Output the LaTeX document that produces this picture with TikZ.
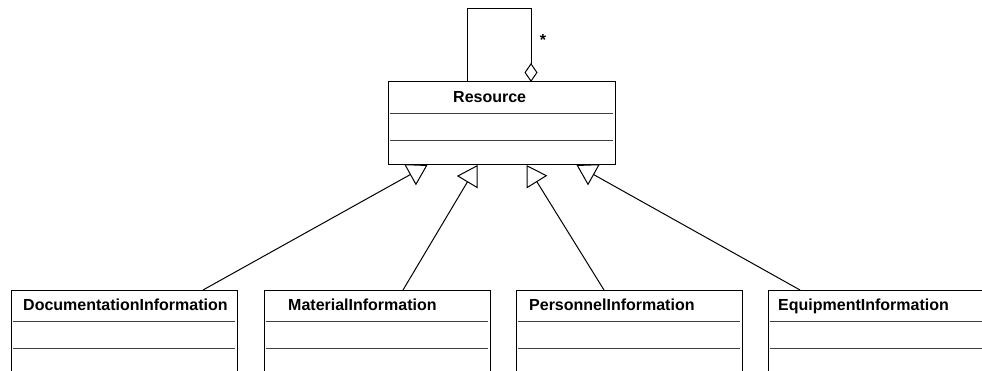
\documentclass[tikz,border=0pt]{standalone}
\usepackage{fontspec}
\setmainfont{Liberation Sans}
\usetikzlibrary{arrows.meta}

\begin{document}
\begin{tikzpicture}[
  x=1pt, y=-1pt,
  cls/.style ={draw,line width=1pt,minimum width=227pt,minimum height=83pt,
               inner sep=0pt,outer sep=0pt},
  sub/.style ={draw,line width=1pt,minimum width=226pt,minimum height=130pt,
               inner sep=0pt,outer sep=0pt,anchor=north west},
  ttl/.style ={font=\fontsize{16}{19}\bfseries\selectfont,inner sep=0pt,anchor=base west},
  cmp/.style ={line width=0.9pt,black!75},
  gen/.style ={-{Triangle[open,length=20pt,width=24pt]},line width=1pt},
  agg/.style ={-{Diamond[open,length=19pt,width=13pt]},line width=1pt}
]
\useasboundingbox (0,0) rectangle (982,371);
\clip (0,0) rectangle (982,371);

%% Parent class
\node[cls] (res) at (501.5,123.5) {};
\node[ttl] (resT) at (453,103) {Resource};

%% Sub classes (row y=290, cut off by the page bottom)
\node[sub] (doc) at (11,290)  {};
\node[sub] (mat) at (264,290) {};
\node[sub] (per) at (516,290) {};
\node[sub] (equ) at (768,290) {};

\node[ttl] (docT) at (23,310.5)  {DocumentationInformation};
\node[ttl] (matT) at (288,310.5) {MaterialInformation};
\node[ttl] (perT) at (529,310.5) {PersonnelInformation};
\node[ttl] (equT) at (778,310.5) {EquipmentInformation};

%% Compartments (attributes / operations)
\foreach \c in {res,doc,mat,per,equ}{
  \draw[cmp] ([xshift=2pt,yshift=-31.5pt]\c.north west) -- ([xshift=-2pt,yshift=-31.5pt]\c.north east);
  \draw[cmp] ([xshift=2pt,yshift=-58pt]\c.north west) -- ([xshift=-2pt,yshift=-58pt]\c.north east);
}

%% Self aggregation: up, across, down onto the diamond
\coordinate (lpL) at (467,9);
\coordinate (lpR) at (531,9);
\draw[agg] (lpL |- res.north) -- (lpL) -- (lpR) -- (lpR |- res.north);
\node[font=\fontsize{16}{19}\bfseries\selectfont,inner sep=0pt] (mult) at (543,40) {*};

%% Generalisation: open triangles on the bottom of Resource
\draw[gen] ([xshift=192pt]doc.north west) -- ([xshift=-74pt]res.south);
\draw[gen] ([xshift=139pt]mat.north west) -- ([xshift=-24pt]res.south);
\draw[gen] ([xshift=88pt]per.north west)  -- ([xshift=25pt]res.south);
\draw[gen] ([xshift=32pt]equ.north west)  -- ([xshift=75pt]res.south);

\end{tikzpicture}
\end{document}
